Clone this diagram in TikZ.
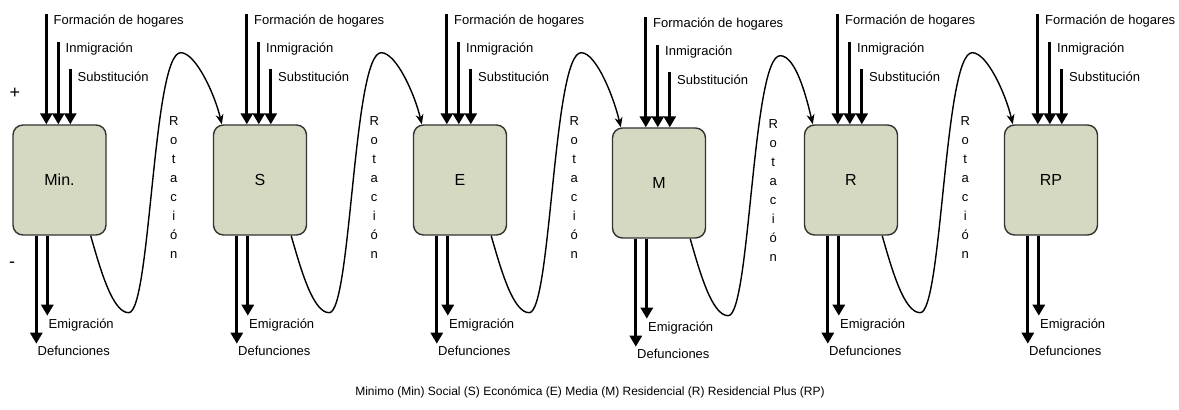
\documentclass[tikz,border=0pt]{standalone}
\usepackage{fontspec}
\setmainfont{Liberation Sans}
\usetikzlibrary{calc, positioning, arrows.meta}
\definecolor{boxfill}{RGB}{214,217,194}
\tikzset{
    stratum/.style={rectangle, rounded corners=5pt, draw=black!80, line width=0.7pt, fill=boxfill, minimum width=46.5pt, minimum height=55pt, inner sep=0pt, font=\fontsize{8}{9}\selectfont},
    flow/.style={-{Triangle[width=6pt,length=5.5pt]}, line width=1.5pt},
    rotarrow/.style={-{Stealth[width=4pt,length=5pt]}, line width=0.7pt},
    lbl/.style={font=\fontsize{6.5}{7}\selectfont, inner sep=0pt, anchor=west},
    rotlbl/.style={font=\fontsize{6.5}{9.5}\selectfont, align=center, inner sep=0pt},
    sign/.style={font=\fontsize{9}{10}\selectfont, inner sep=0pt}
}
\begin{document}
\begin{tikzpicture}[x=0.5pt, y=-0.5pt]
    \useasboundingbox (0,0) rectangle (1179,410);
    % strata
    \foreach \nm/\cx/\cy/\txt in {min/59.5/180/Min., s/260/180/S, e/460/180/E, m/659/183/M, r/851/180/R, rp/1051/180/RP}
        \node[stratum] (\nm) at (\cx,\cy) {\txt};

    % inflows and outflows
    \foreach \nm in {min, s, e, m, r, rp} {
        \coordinate (fh-\nm) at ($(\nm.north west)+(34,-110)$);
        \coordinate (im-\nm) at ($(\nm.north west)+(46,-82)$);
        \coordinate (sb-\nm) at ($(\nm.north west)+(58,-55)$);
        \coordinate (df-\nm) at ($(\nm.south west)+(24,108)$);
        \coordinate (em-\nm) at ($(\nm.south west)+(35,80)$);
        \node[lbl] (fhl-\nm) at ($(fh-\nm)+(7,7)$) {Formación de hogares};
        \node[lbl] (iml-\nm) at ($(im-\nm)+(7,7)$) {Inmigración};
        \node[lbl] (sbl-\nm) at ($(sb-\nm)+(7,7)$) {Substitución};
        \node[lbl] (eml-\nm) at ($(em-\nm)+(1,9)$) {Emigración};
        \node[lbl] (dfl-\nm) at ($(df-\nm)+(1,7)$) {Defunciones};
        \draw[flow] (fh-\nm) -- (fh-\nm |- \nm.north);
        \draw[flow] (im-\nm) -- (im-\nm |- \nm.north);
        \draw[flow] (sb-\nm) -- (sb-\nm |- \nm.north);
        \draw[flow] (df-\nm |- \nm.south) -- (df-\nm);
        \draw[flow] (em-\nm |- \nm.south) -- (em-\nm);
    }

    % rotation between strata
    \foreach \a/\b [count=\k] in {min/s, s/e, e/m, m/r, r/rp} {
        \node[rotlbl] (rot-\k) at ($(\a.east)+(67,8)$) {R\\o\\t\\a\\c\\i\\ó\\n};
        \draw[rotarrow] ([xshift=-8pt]\a.south east)
            .. controls +(10,35) and +(-16,0) .. ($(\a.south east)+(22,77)$)
            .. controls +(22,0) and +(-28,0) .. ($(\a.south east)+(74,-183)$)
            .. controls +(15,0) and +(-7,-30) .. ([xshift=4.5pt]\b.north west);
    }

    \node[sign] (plus) at (15,93) {+};
    \node[sign] (minus) at (12,265) {-};
    \node[font=\fontsize{6}{7}\selectfont] (caption) at (590,392)
        {Minimo (Min) Social (S) Económica (E) Media (M) Residencial (R) Residencial Plus (RP)};
\end{tikzpicture}
\end{document}
